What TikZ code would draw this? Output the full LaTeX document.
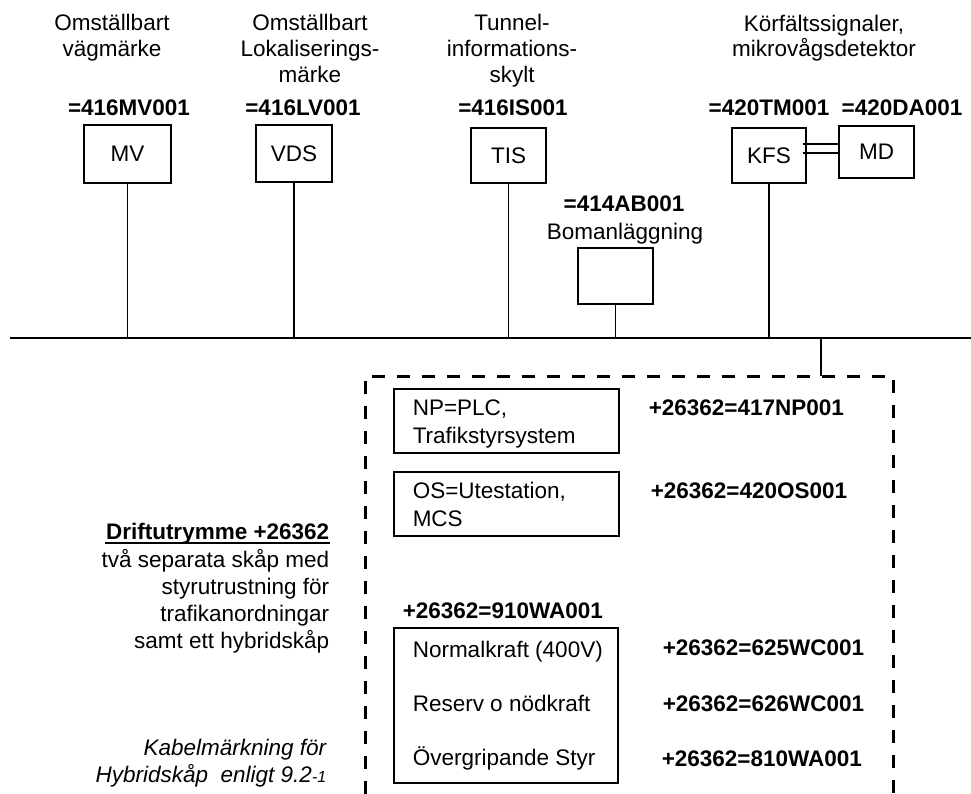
\documentclass[tikz,border=0pt]{standalone}
\usepackage{fontspec}
\setmainfont{Liberation Sans}
\begin{document}
\begin{tikzpicture}[x=1pt,y=-1pt,line width=1.5pt,inner sep=0pt,
    font=\fontsize{22.5}{26}\selectfont,
    dashbox/.style={line width=3pt,dash pattern=on 13pt off 12pt}]
  \useasboundingbox (0,0) rectangle (971,794);

  \begin{scope}[every node/.style={align=center, anchor=base}]
    \node (t1) at (112,57)  {Omställbart\\vägmärke};
    \node (t2) at (310,83)  {Omställbart\\Lokaliserings-\\märke};
    \node (t3) at (512,83)  {Tunnel-\\informations-\\skylt};
    \node[font=\fontsize{22.5}{25}\selectfont] (t4) at (824,57) {Körfältssignaler,\\mikrovågsdetektor};
    \node (t5) at (625,240) {Bomanläggning};
  \end{scope}

  \begin{scope}[every node/.style={anchor=base, font=\fontsize{22.5}{26}\selectfont\bfseries}]
    \node (l1) at (129,116) {=416MV001};
    \node (l2) at (303,116) {=416LV001};
    \node (l3) at (513,116) {=416IS001};
    \node (l4) at (769,116) {=420TM001};
    \node (l5) at (902,116) {=420DA001};
    \node (l6) at (624,212) {=414AB001};
  \end{scope}

  \begin{scope}[every node/.style={draw}]
    \node[minimum width=87pt, minimum height=58pt] (mv)  at (127.5,154)  {MV};
    \node[minimum width=76pt, minimum height=57pt] (vds) at (294,153.5)  {VDS};
    \node[minimum width=75pt, minimum height=55pt] (tis) at (508.5,155.5) {TIS};
    \node[minimum width=74pt, minimum height=55pt] (kfs) at (769,155.5)  {KFS};
    \node[minimum width=75pt, minimum height=52pt] (md)  at (876.5,152)  {MD};
    \node[minimum width=75pt, minimum height=56pt] (ab)  at (615.5,276)  {};
    \node[minimum width=225pt, minimum height=64pt] (np) at (506.5,421) {};
    \node[minimum width=225pt, minimum height=64pt] (os) at (506.5,504) {};
    \node[minimum width=224pt, minimum height=155pt] (wa) at (506,705.5) {};
  \end{scope}

  \coordinate (kfsA) at ([shift={(-4pt,11.5pt)}]kfs.east);
  \coordinate (kfsB) at ([shift={(-4pt,2.5pt)}]kfs.east);
  \draw (kfsA) -- (kfsA -| md.west);
  \draw (kfsB) -- (kfsB -| md.west);

  \coordinate (busL) at (10,338);
  \coordinate (busR) at (971,338);
  \draw (busL) -- (busR);
  \foreach \n in {mv,vds,tis,ab,kfs}
    \draw (\n.south) -- (\n.south |- busL);

  \coordinate (drop) at (821,376);
  \draw (drop |- busL) -- (drop);
  \draw[dashbox] (365,794) -- (365,376) -- (893,376) -- (893,794);

  \begin{scope}[every node/.style={align=left, anchor=base west}]
    \node[font=\fontsize{22.5}{28}\selectfont] (npt) at (412,443) {NP=PLC,\\Trafikstyrsystem};
    \node[font=\fontsize{22.5}{28}\selectfont] (ost) at (412,526) {OS=Utestation,\\MCS};
    \node[font=\fontsize{22.5}{54}\selectfont] (wat) at (412,765)
      {Normalkraft (400V)\\Reserv o nödkraft\\Övergripande Styr};
  \end{scope}

  \begin{scope}[every node/.style={anchor=base west, font=\fontsize{22.5}{26}\selectfont\bfseries}]
    \node (c1) at (648,415) {+26362=417NP001};
    \node (c2) at (650,498) {+26362=420OS001};
    \node (c3) at (402,618) {+26362=910WA001};
    \node (c4) at (662,655) {+26362=625WC001};
    \node (c5) at (662,711) {+26362=626WC001};
    \node (c6) at (661,766) {+26362=810WA001};
  \end{scope}

  \node[anchor=base east, font=\fontsize{22.5}{26}\selectfont\bfseries] (drift) at (330,539) {Driftutrymme +26362};
  \draw[line width=1.8pt] ([yshift=-4pt]drift.base west) -- ([yshift=-4pt]drift.base east);
  \node[anchor=base east, align=right, font=\fontsize{22.5}{27}\selectfont] (skap) at (330,648)
    {två separata skåp med\\styrutrustning för\\trafikanordningar\\samt ett hybridskåp};
  \node[anchor=base east, align=right, font=\fontsize{22.5}{27}\selectfont\itshape] (kabel) at (327,782)
    {Kabelmärkning för\\Hybridskåp\ \ enligt 9.2{\fontsize{16}{18}\selectfont -1}};
\end{tikzpicture}
\end{document}
